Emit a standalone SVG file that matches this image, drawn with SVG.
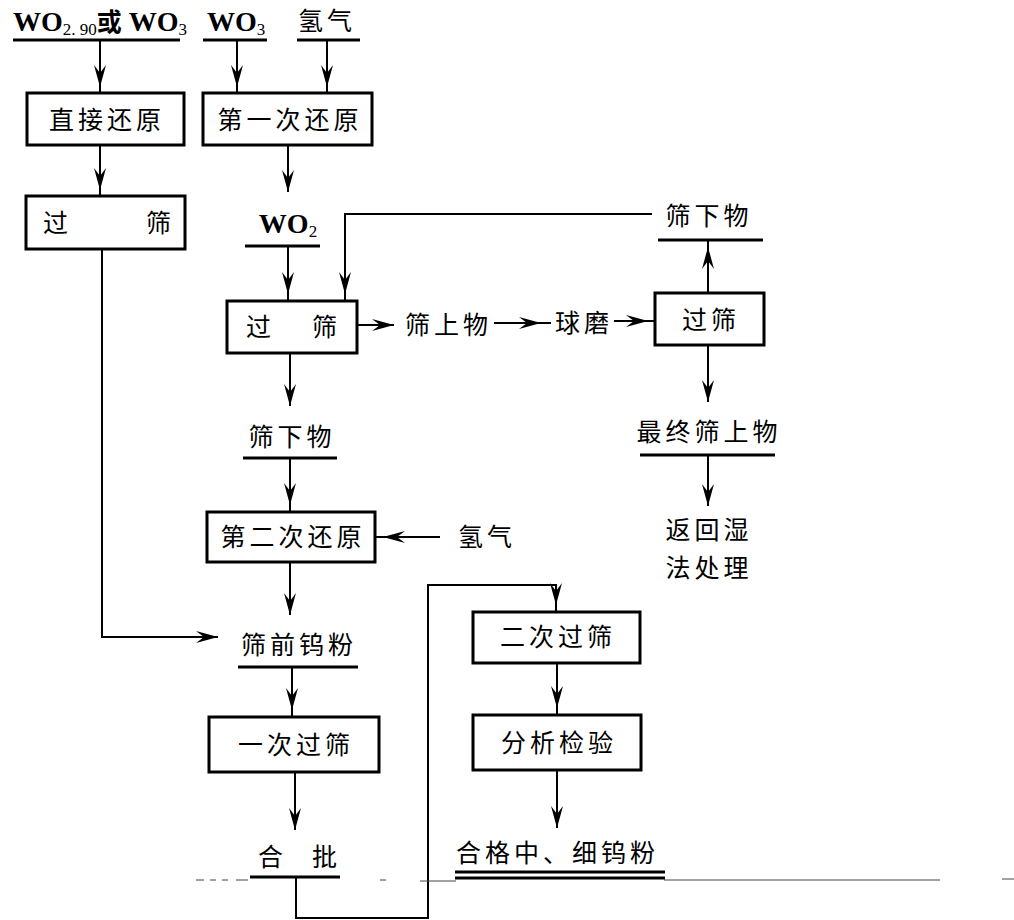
<svg xmlns="http://www.w3.org/2000/svg" width="1014" height="920" viewBox="0 0 1014 920">
<defs>
<marker id="ah" markerUnits="userSpaceOnUse" markerWidth="26" markerHeight="16" viewBox="-24 -8 26 16" refX="0" refY="0" orient="auto">
<path d="M0,0 L-22,-6 L-14,0 L-22,6 Z" fill="#000"/>
</marker>
<style>
.bx{fill:#fff;stroke:#000;stroke-width:3}
.ln{fill:none;stroke:#000;stroke-width:2}
.ul{fill:none;stroke:#000;stroke-width:3}
.cn{font-family:"Noto Sans CJK SC","Noto Sans",sans-serif;font-size:25px;fill:#000;letter-spacing:4px}
.lt{font-family:"Liberation Serif",serif;font-size:28px;font-weight:bold;fill:#000}
.sub{font-size:17px;font-weight:normal}
.scan{fill:none;stroke:#444;stroke-width:1}
</style>
</defs>
<rect width="1014" height="920" fill="#fff"/>

<g id="connectors">
<path class="ln" d="M100,40 V87" marker-end="url(#ah)"/><path class="ln" d="M100,87 V93"/>
<path class="ln" d="M237,40 V87" marker-end="url(#ah)"/><path class="ln" d="M237,87 V93"/>
<path class="ln" d="M327,40 V87" marker-end="url(#ah)"/><path class="ln" d="M327,87 V93"/>
<path class="ln" d="M100,145 V190" marker-end="url(#ah)"/><path class="ln" d="M100,190 V196"/>
<path class="ln" d="M288,145 V192" marker-end="url(#ah)"/>
<path class="ln" d="M288,246 V294" marker-end="url(#ah)"/><path class="ln" d="M288,294 V301"/>
<path class="ln" d="M652,214 H345 V294" marker-end="url(#ah)"/><path class="ln" d="M345,294 V301"/>
<path class="ln" d="M357,325 H394" marker-end="url(#ah)"/>
<path class="ln" d="M494,323 H541" marker-end="url(#ah)"/><path class="ln" d="M541,323 H551"/>
<path class="ln" d="M614,321 H648" marker-end="url(#ah)"/><path class="ln" d="M648,321 H655"/>
<path class="ln" d="M708,293 V247" marker-end="url(#ah)"/><path class="ln" d="M708,247 V240"/>
<path class="ln" d="M708,345 V402" marker-end="url(#ah)"/>
<path class="ln" d="M708,455 V506" marker-end="url(#ah)"/>
<path class="ln" d="M290,353 V406" marker-end="url(#ah)"/>
<path class="ln" d="M290,458 V505" marker-end="url(#ah)"/><path class="ln" d="M290,505 V512"/>
<path class="ln" d="M440,537 H383" marker-end="url(#ah)"/><path class="ln" d="M383,537 H375"/>
<path class="ln" d="M290,562 V615" marker-end="url(#ah)"/>
<path class="ln" d="M102,249 V637 H218" marker-end="url(#ah)"/>
<path class="ln" d="M292,667 V710" marker-end="url(#ah)"/><path class="ln" d="M292,710 V717"/>
<path class="ln" d="M295,772 V830" marker-end="url(#ah)"/>
<path class="ln" d="M296,877 V918 H428 V585 H556 V605" marker-end="url(#ah)"/><path class="ln" d="M556,605 V612"/>
<path class="ln" d="M557,663 V708" marker-end="url(#ah)"/><path class="ln" d="M557,708 V715"/>
<path class="ln" d="M557,770 V828" marker-end="url(#ah)"/>
</g>

<g id="scan-marks">
<path class="scan" d="M664,880 H940 M1002,879 H1014"/>
<path class="scan" d="M196,880 H204 M210,880 H216 M222,880 H228 M236,880 H248 M380,880 H386 M420,881 H456"/>
</g>

<g id="in-wo290">
<text class="lt" x="13" y="31">WO<tspan class="sub" dy="4">2. 90</tspan><tspan dy="-4" font-family="Noto Sans CJK SC, sans-serif" font-size="25">或</tspan> WO<tspan class="sub" dy="4">3</tspan></text>
<path class="ul" d="M13,40 H180"/>
</g>
<g id="in-wo3">
<text class="lt" x="207" y="31">WO<tspan class="sub" dy="4">3</tspan></text>
<path class="ul" d="M203,40 H267"/>
</g>
<g id="in-h2-top">
<text class="cn" x="298" y="30">氢气</text>
<path class="ul" d="M297,40 H360"/>
</g>

<g id="n-direct"><rect class="bx" x="27" y="93" width="157" height="52"/><text class="cn" x="107" y="129" text-anchor="middle">直接还原</text></g>
<g id="n-first"><rect class="bx" x="203" y="93" width="169" height="52"/><text class="cn" x="290" y="129" text-anchor="middle">第一次还原</text></g>
<g id="n-sieve-left"><rect class="bx" x="26" y="196" width="159" height="53"/><text class="cn" x="43" y="232">过</text><text class="cn" x="146" y="232">筛</text></g>

<g id="wo2"><text class="lt" x="288" y="233" text-anchor="middle">WO<tspan class="sub" dy="4">2</tspan></text><path class="ul" d="M245,246 H320"/></g>

<g id="undersize-top"><text class="cn" x="709" y="225" text-anchor="middle">筛下物</text><path class="ul" d="M658,240 H763"/></g>

<g id="n-sieve-mid"><rect class="bx" x="227" y="301" width="130" height="52"/><text class="cn" x="246" y="336">过</text><text class="cn" x="312" y="336">筛</text></g>
<g id="oversize"><text class="cn" x="405" y="334">筛上物</text></g>
<g id="ballmill"><text class="cn" x="555" y="332">球磨</text></g>
<g id="n-sieve-right"><rect class="bx" x="655" y="293" width="109" height="52"/><text class="cn" x="711" y="329" text-anchor="middle">过筛</text></g>

<g id="final-oversize"><text class="cn" x="709" y="441" text-anchor="middle">最终筛上物</text><path class="ul" d="M640,455 H775"/></g>
<g id="return-wet"><text class="cn" x="709" y="539" text-anchor="middle">返回湿</text><text class="cn" x="709" y="577" text-anchor="middle">法处理</text></g>

<g id="undersize-mid"><text class="cn" x="292" y="446" text-anchor="middle">筛下物</text><path class="ul" d="M243,458 H337"/></g>

<g id="n-second"><rect class="bx" x="207" y="512" width="168" height="50"/><text class="cn" x="293" y="546" text-anchor="middle">第二次还原</text></g>
<g id="h2-right"><text class="cn" x="458" y="546">氢气</text></g>

<g id="pre-sieve-powder"><text class="cn" x="299" y="654" text-anchor="middle">筛前钨粉</text><path class="ul" d="M238,667 H358"/></g>

<g id="n-sieve-1"><rect class="bx" x="209" y="717" width="170" height="55"/><text class="cn" x="296" y="754" text-anchor="middle">一次过筛</text></g>

<g id="batch"><text class="cn" x="258" y="866">合</text><text class="cn" x="312" y="866">批</text><path class="ul" d="M250,877 H340"/></g>

<g id="n-sieve-2"><rect class="bx" x="473" y="612" width="167" height="51"/><text class="cn" x="558" y="646" text-anchor="middle">二次过筛</text></g>
<g id="n-analysis"><rect class="bx" x="473" y="715" width="168" height="55"/><text class="cn" x="559" y="752" text-anchor="middle">分析检验</text></g>

<g id="product"><text class="cn" x="456" y="862" letter-spacing="2">合格中、细钨粉</text><path class="ul" d="M455,872 H665 M455,878 H665"/></g>
</svg>
